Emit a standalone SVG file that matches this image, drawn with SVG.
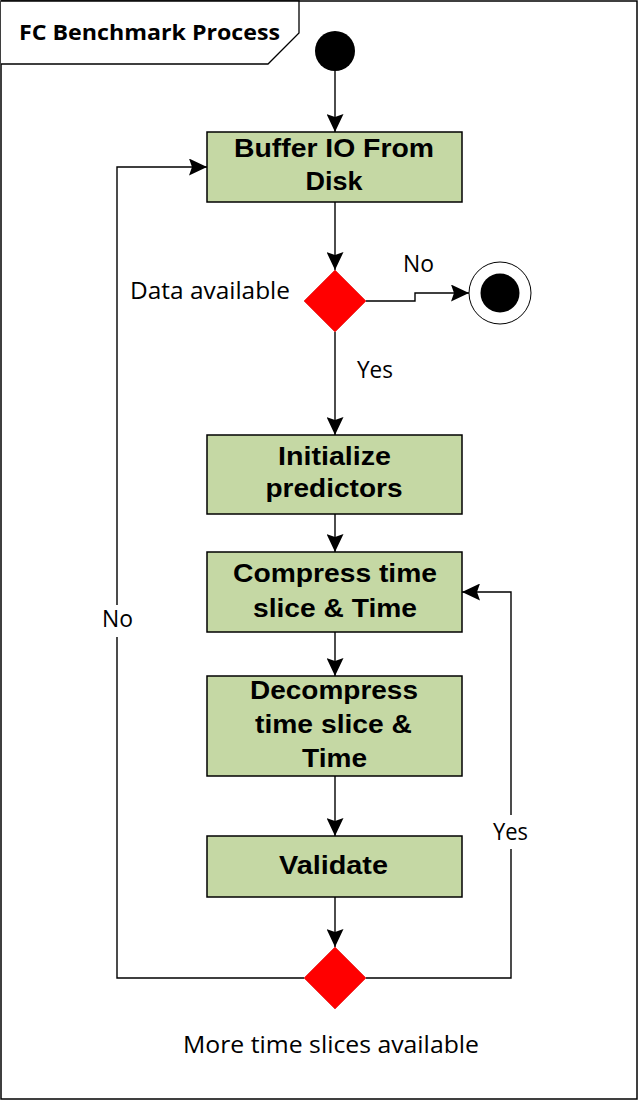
<svg xmlns="http://www.w3.org/2000/svg" width="638" height="1100" viewBox="0 0 638 1100">
<style>
.box{fill:#C5D8A4;stroke:#000;stroke-width:1.5}
.dec{fill:#FF0000;stroke:#D00000;stroke-width:0.5}
.bt{font-family:"Liberation Sans",Arial,sans-serif;font-weight:bold;font-size:25px;fill:#000;text-anchor:middle}
.lb{font-family:"Open Sans","Noto Sans",sans-serif;font-size:23px;fill:#000}
.ln{fill:none;stroke:#000;stroke-width:1.4}
</style>
<defs>
<marker id="ah" markerUnits="userSpaceOnUse" viewBox="0 0 18 17" markerWidth="18" markerHeight="17" refX="18" refY="8.5" orient="auto">
<path d="M0,0 L18,8.5 L0,17 L3,8.5 Z" fill="#000"/>
</marker>
</defs>
<rect x="0" y="0" width="638" height="1100" fill="#fff"/>
<rect x="1" y="1" width="636" height="1098" fill="none" stroke="#000" stroke-width="1.5"/>
<g id="title">
<path d="M1,1 H299 V33 L268,64 H1" fill="#fff" stroke="#000" stroke-width="1.3"/>
<text x="19" y="40" font-family="'Open Sans','Noto Sans',sans-serif" font-weight="bold" font-size="22" textLength="261" lengthAdjust="spacingAndGlyphs">FC Benchmark Process</text>
</g>
<g id="connectors">
<path class="ln" d="M335,71 V132" marker-end="url(#ah)"/>
<path class="ln" d="M335,202 V270" marker-end="url(#ah)"/>
<path class="ln" d="M366,301 H415 V293 H469" marker-end="url(#ah)"/>
<path class="ln" d="M335,332 V435" marker-end="url(#ah)"/>
<path class="ln" d="M335,514 V552" marker-end="url(#ah)"/>
<path class="ln" d="M335,632 V676" marker-end="url(#ah)"/>
<path class="ln" d="M335,776 V836" marker-end="url(#ah)"/>
<path class="ln" d="M335,897 V947" marker-end="url(#ah)"/>
<path class="ln" d="M304,978 H117 V167 H207" marker-end="url(#ah)"/>
<path class="ln" d="M366,978 H511 V592 H462" marker-end="url(#ah)"/>
<rect x="100" y="605" width="36" height="32" fill="#fff"/>
<rect x="490" y="815" width="42" height="34" fill="#fff"/>
<text class="lb" x="403" y="272" textLength="31" lengthAdjust="spacingAndGlyphs">No</text>
<text class="lb" x="357" y="378" textLength="36" lengthAdjust="spacingAndGlyphs">Yes</text>
<text class="lb" x="102" y="627" textLength="31" lengthAdjust="spacingAndGlyphs">No</text>
<text class="lb" x="493" y="840" textLength="35" lengthAdjust="spacingAndGlyphs">Yes</text>
</g>
<g id="start">
<circle cx="335" cy="51" r="20" fill="#000"/>
</g>
<g id="buffer">
<rect class="box" x="207" y="132" width="255" height="70"/>
<text class="bt" x="334" y="157" textLength="200" lengthAdjust="spacingAndGlyphs">Buffer IO From</text>
<text class="bt" x="334" y="190" textLength="57" lengthAdjust="spacingAndGlyphs">Disk</text>
</g>
<g id="decision1">
<polygon class="dec" points="335,270 366,301 335,332 304,301"/>
<text class="lb" x="130" y="299" textLength="160" lengthAdjust="spacingAndGlyphs">Data available</text>
</g>
<g id="end">
<circle cx="500" cy="293" r="31" fill="#fff" stroke="#000" stroke-width="1"/>
<circle cx="500" cy="293" r="19.5" fill="#000"/>
</g>
<g id="init">
<rect class="box" x="207" y="435" width="255" height="79"/>
<text class="bt" x="334.5" y="465" textLength="113" lengthAdjust="spacingAndGlyphs">Initialize</text>
<text class="bt" x="334" y="497" textLength="137" lengthAdjust="spacingAndGlyphs">predictors</text>
</g>
<g id="compress">
<rect class="box" x="207" y="552" width="255" height="80"/>
<text class="bt" x="335" y="582" textLength="204" lengthAdjust="spacingAndGlyphs">Compress time</text>
<text class="bt" x="335" y="617" textLength="164" lengthAdjust="spacingAndGlyphs">slice &amp; Time</text>
</g>
<g id="decompress">
<rect class="box" x="207" y="676" width="255" height="100"/>
<text class="bt" x="334" y="699" textLength="168" lengthAdjust="spacingAndGlyphs">Decompress</text>
<text class="bt" x="333.5" y="733" textLength="157" lengthAdjust="spacingAndGlyphs">time slice &amp;</text>
<text class="bt" x="334.5" y="767" textLength="65" lengthAdjust="spacingAndGlyphs">Time</text>
</g>
<g id="validate">
<rect class="box" x="207" y="836" width="255" height="61"/>
<text class="bt" x="333.5" y="874" textLength="109" lengthAdjust="spacingAndGlyphs">Validate</text>
</g>
<g id="decision2">
<polygon class="dec" points="335,947 366,978 335,1009 304,978"/>
<text class="lb" x="183" y="1053" textLength="296" lengthAdjust="spacingAndGlyphs">More time slices available</text>
</g>
</svg>
